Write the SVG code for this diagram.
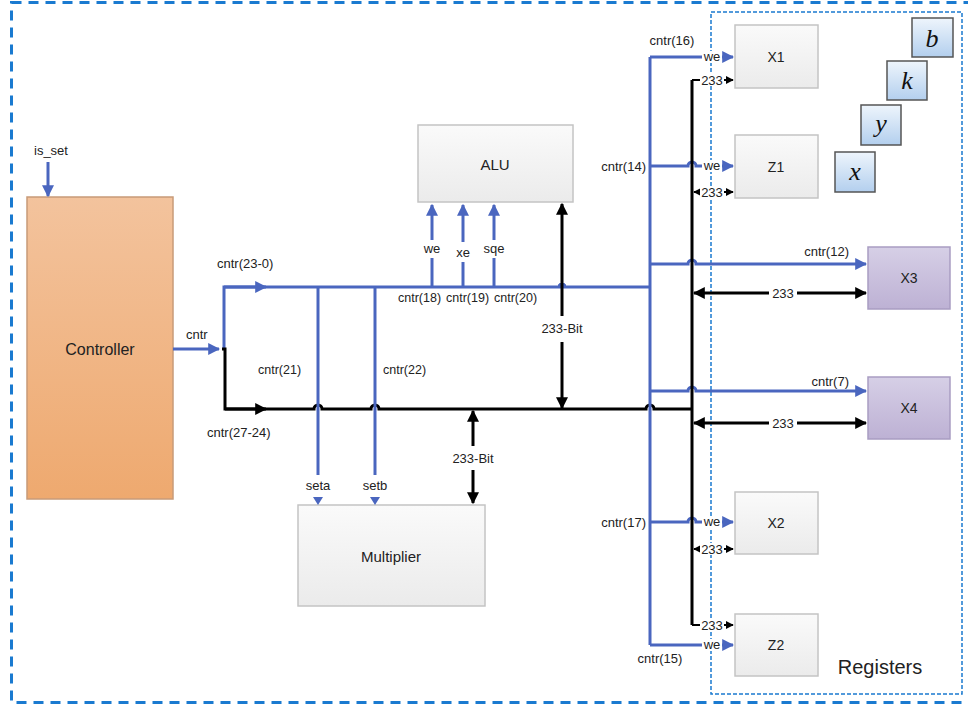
<svg xmlns="http://www.w3.org/2000/svg" width="968" height="706" viewBox="0 0 968 706">
<defs>
<linearGradient id="gOrange" x1="0" y1="0" x2="0" y2="1"><stop offset="0" stop-color="#f3c39d"/><stop offset="1" stop-color="#eea96f"/></linearGradient>
<linearGradient id="gGray" x1="0" y1="0" x2="0" y2="1"><stop offset="0" stop-color="#fafafa"/><stop offset="1" stop-color="#ebebeb"/></linearGradient>
<linearGradient id="gPurple" x1="0" y1="0" x2="0" y2="1"><stop offset="0" stop-color="#d6cfe6"/><stop offset="1" stop-color="#bdb1d4"/></linearGradient>
<linearGradient id="gBlue" x1="0" y1="0" x2="0" y2="1"><stop offset="0" stop-color="#eef5fc"/><stop offset="1" stop-color="#b3cfee"/></linearGradient>
<marker id="ab" viewBox="0 0 10 10" refX="9" refY="5" markerWidth="12" markerHeight="12" markerUnits="userSpaceOnUse" orient="auto-start-reverse"><path d="M0,0 L10,5 L0,10 z" fill="#4a66bf"/></marker>
<marker id="ak" viewBox="0 0 10 10" refX="9" refY="5" markerWidth="12" markerHeight="12" markerUnits="userSpaceOnUse" orient="auto-start-reverse"><path d="M0,0 L10,5 L0,10 z" fill="#000"/></marker>
<marker id="aks" viewBox="0 0 10 10" refX="9" refY="5" markerWidth="8" markerHeight="8" markerUnits="userSpaceOnUse" orient="auto-start-reverse"><path d="M0,0 L10,5 L0,10 z" fill="#000"/></marker>
</defs>
<style>
.b{stroke:#4a66bf;stroke-width:3;fill:none}
.k{stroke:#000;stroke-width:3;fill:none}
.t{font-family:"Liberation Sans",Arial,sans-serif;fill:#222}
.s{font-size:12.5px}
.m{font-size:13px}
.box{fill:url(#gGray);stroke:#c4c4c4;stroke-width:1.5}
.pbox{fill:url(#gPurple);stroke:#a99dc2;stroke-width:1.5}
.vbox{fill:url(#gBlue);stroke:#555;stroke-width:1.5}
.v{font-family:"Liberation Serif","Times New Roman",serif;font-style:italic;font-size:26px;fill:#111}
</style>
<rect width="968" height="706" fill="#fff"/>
<!-- outer frame -->
<rect x="11.5" y="2.5" width="975" height="700" fill="none" stroke="#1a7ad0" stroke-width="3" stroke-dasharray="10,7"/>
<!-- registers frame -->
<rect x="711" y="12" width="251" height="682" fill="none" stroke="#1a7ad0" stroke-width="1.5" stroke-dasharray="4,2"/>

<g id="controller">
<rect x="27" y="197" width="146" height="302" fill="url(#gOrange)" stroke="#c89b78" stroke-width="1.5"/>
<text class="t" x="100" y="355" font-size="16" text-anchor="middle">Controller</text>
</g>
<g id="alu">
<rect class="box" x="418" y="125" width="155" height="77"/>
<text class="t" x="495" y="170" font-size="15" text-anchor="middle">ALU</text>
</g>
<g id="multiplier">
<rect class="box" x="298" y="505" width="187" height="101"/>
<text class="t" x="391" y="562" font-size="15" text-anchor="middle">Multiplier</text>
</g>
<g id="X1"><rect class="box" x="735" y="25" width="83" height="63"/><text class="t" x="776" y="62" font-size="14" text-anchor="middle">X1</text></g>
<g id="Z1"><rect class="box" x="735" y="135" width="83" height="63"/><text class="t" x="776" y="172" font-size="14" text-anchor="middle">Z1</text></g>
<g id="X2"><rect class="box" x="735" y="492" width="83" height="62"/><text class="t" x="776" y="528" font-size="14" text-anchor="middle">X2</text></g>
<g id="Z2"><rect class="box" x="735" y="614" width="83" height="62"/><text class="t" x="776" y="650" font-size="14" text-anchor="middle">Z2</text></g>
<g id="X3"><rect class="pbox" x="868" y="247" width="82" height="62"/><text class="t" x="909" y="283" font-size="14" text-anchor="middle">X3</text></g>
<g id="X4"><rect class="pbox" x="868" y="377" width="82" height="62"/><text class="t" x="909" y="413" font-size="14" text-anchor="middle">X4</text></g>
<g id="var-b"><rect class="vbox" x="912" y="18" width="41" height="39"/><text class="v" x="932" y="47" text-anchor="middle">b</text></g>
<g id="var-k"><rect class="vbox" x="887" y="61" width="40" height="39"/><text class="v" x="907" y="89" text-anchor="middle">k</text></g>
<g id="var-y"><rect class="vbox" x="861" y="105" width="40" height="40"/><text class="v" x="881" y="132" text-anchor="middle">y</text></g>
<g id="var-x"><rect class="vbox" x="835" y="152" width="40" height="40"/><text class="v" x="855" y="180" text-anchor="middle">x</text></g>
<text class="t" x="880" y="674" font-size="20" text-anchor="middle">Registers</text>

<g id="connectors">
<!-- is_set -->
<line class="b" x1="48" y1="162" x2="48" y2="196" marker-end="url(#ab)"/>
<!-- cntr -->
<line class="b" x1="173" y1="349" x2="219" y2="349" marker-end="url(#ab)"/>
<path class="b" d="M224,349 V287 H650"/>
<path class="b" d="M224,287 H266" marker-end="url(#ab)"/>
<path class="k" d="M222,349 H225 V409 H314 a4,4 0 0 1 8,0 H371 a4,4 0 0 1 8,0 H646 a4,4 0 0 1 8,0 H692"/>
<path class="k" d="M225,409 H266" marker-end="url(#ak)"/>
<!-- seta setb -->
<line class="b" x1="318" y1="287" x2="318" y2="475"/>
<line class="b" x1="375" y1="287" x2="375" y2="475"/>
<path d="M313,497 L323,497 L318,505 z" fill="#4a66bf"/>
<path d="M370,497 L380,497 L375,505 z" fill="#4a66bf"/>
<!-- ALU enables -->
<line class="b" x1="432" y1="287" x2="432" y2="258"/>
<line class="b" x1="432" y1="240" x2="432" y2="205" marker-end="url(#ab)"/>
<line class="b" x1="463" y1="287" x2="463" y2="262"/>
<line class="b" x1="463" y1="242" x2="463" y2="205" marker-end="url(#ab)"/>
<line class="b" x1="494" y1="287" x2="494" y2="258"/>
<line class="b" x1="494" y1="240" x2="494" y2="205" marker-end="url(#ab)"/>
<!-- hop on blue bus at 562 -->
<path d="M558,287 a4,4 0 0 1 8,0" fill="#4a66bf" stroke="#4a66bf" stroke-width="1"/>
<!-- ALU 233-bit -->
<line class="k" x1="562" y1="316" x2="562" y2="204" marker-end="url(#ak)"/>
<line class="k" x1="562" y1="342" x2="562" y2="408" marker-end="url(#ak)"/>
<!-- Multiplier 233-bit -->
<line class="k" x1="473" y1="446" x2="473" y2="411" marker-end="url(#ak)"/>
<line class="k" x1="473" y1="470" x2="473" y2="503" marker-end="url(#ak)"/>
<!-- blue vertical control line -->
<path class="b" d="M650,287 V57"/>
<path class="b" d="M650,287 V645"/>
<path class="b" d="M650,57 H733" marker-end="url(#ab)"/>
<path class="b" d="M650,166 H688 a4,4 0 0 1 8,0 H733" marker-end="url(#ab)"/>
<path class="b" d="M650,264 H688 a4,4 0 0 1 8,0 H866" marker-end="url(#ab)"/>
<path class="b" d="M650,391 H688 a4,4 0 0 1 8,0 H866" marker-end="url(#ab)"/>
<path class="b" d="M650,522 H688 a4,4 0 0 1 8,0 H733" marker-end="url(#ab)"/>
<path class="b" d="M650,645 H733" marker-end="url(#ab)"/>
<!-- black vertical data line -->
<path class="k" d="M692,80 V625"/>
<path stroke="#000" stroke-width="2" fill="none" d="M692,80 H733" marker-end="url(#aks)"/>
<path stroke="#000" stroke-width="2" fill="none" d="M694,192 H733" marker-start="url(#aks)" marker-end="url(#aks)"/>
<path stroke="#000" stroke-width="2" fill="none" d="M694,549 H733" marker-start="url(#aks)" marker-end="url(#aks)"/>
<path stroke="#000" stroke-width="2" fill="none" d="M692,625 H733" marker-end="url(#aks)"/>
<path class="k" d="M694,293 H866" marker-start="url(#ak)" marker-end="url(#ak)"/>
<path class="k" d="M694,423 H866" marker-start="url(#ak)" marker-end="url(#ak)"/>
</g>

<g id="labels">
<text class="t m" x="34" y="155">is_set</text>
<text class="t m" x="186" y="339">cntr</text>
<text class="t m" x="217" y="268">cntr(23-0)</text>
<text class="t m" x="207" y="437">cntr(27-24)</text>
<text class="t s" x="258" y="374">cntr(21)</text>
<text class="t s" x="383" y="374">cntr(22)</text>
<text class="t m" x="318" y="490" text-anchor="middle">seta</text>
<text class="t m" x="375" y="490" text-anchor="middle">setb</text>
<text class="t m" x="432" y="253" text-anchor="middle">we</text>
<text class="t m" x="463" y="257" text-anchor="middle">xe</text>
<text class="t m" x="494" y="253" text-anchor="middle">sqe</text>
<text class="t s" x="398" y="302">cntr(18)</text>
<text class="t s" x="446" y="302">cntr(19)</text>
<text class="t s" x="494" y="302">cntr(20)</text>
<text class="t m" x="562" y="333" text-anchor="middle">233-Bit</text>
<text class="t m" x="473" y="463" text-anchor="middle">233-Bit</text>
<text class="t m" x="672" y="45" text-anchor="middle">cntr(16)</text>
<text class="t m" x="646" y="171" text-anchor="end">cntr(14)</text>
<text class="t m" x="646" y="527" text-anchor="end">cntr(17)</text>
<text class="t m" x="660" y="663" text-anchor="middle">cntr(15)</text>
<text class="t m" x="849" y="256" text-anchor="end">cntr(12)</text>
<text class="t m" x="849" y="386" text-anchor="end">cntr(7)</text>
<g class="t m" text-anchor="middle">
<rect x="702" y="51" width="20" height="12" fill="#fff"/><text x="712" y="61">we</text>
<rect x="702" y="160" width="20" height="12" fill="#fff"/><text x="712" y="170">we</text>
<rect x="702" y="516" width="20" height="12" fill="#fff"/><text x="712" y="526">we</text>
<rect x="702" y="639" width="20" height="12" fill="#fff"/><text x="712" y="649">we</text>
<rect x="700" y="74" width="24" height="12" fill="#fff"/><text x="712" y="85">233</text>
<rect x="700" y="186" width="24" height="12" fill="#fff"/><text x="712" y="197">233</text>
<rect x="700" y="543" width="24" height="12" fill="#fff"/><text x="712" y="554">233</text>
<rect x="700" y="619" width="24" height="12" fill="#fff"/><text x="712" y="630">233</text>
<rect x="769" y="287" width="28" height="12" fill="#fff"/><text x="783" y="298">233</text>
<rect x="769" y="417" width="28" height="12" fill="#fff"/><text x="783" y="428">233</text>
</g>
</g>
</svg>
